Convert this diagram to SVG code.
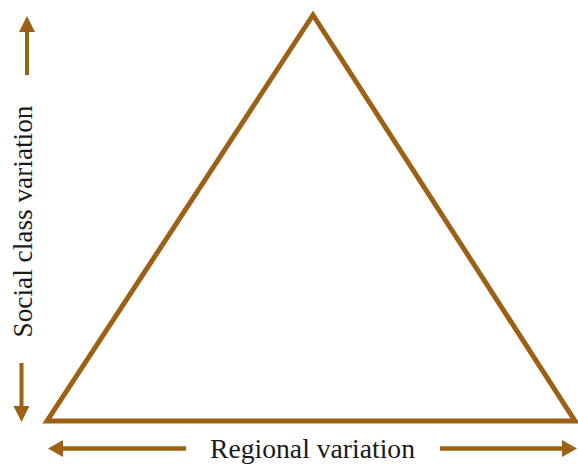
<svg xmlns="http://www.w3.org/2000/svg" width="578" height="464" viewBox="0 0 578 464">
<style>
.ln{stroke:#9C6114;fill:none}
.hd{fill:#9C6114;stroke:none}
.lbl{font-family:"Liberation Serif","Times New Roman",serif;font-size:27.5px;fill:#1a1a1a}
</style>
<rect width="578" height="464" fill="#fff"/>
<g id="triangle">
<polygon class="ln" points="313,15 47,421 575,421" stroke-width="5" stroke-linejoin="miter" stroke-miterlimit="10"/>
</g>
<g id="connectors">
<line class="ln" x1="27" y1="75" x2="27" y2="30" stroke-width="4"/>
<polygon class="hd" points="27,16 19,32 35,32"/>
<line class="ln" x1="21.5" y1="363" x2="21.5" y2="408" stroke-width="4"/>
<polygon class="hd" points="21.5,422 13.5,406 29.5,406"/>
<line class="ln" x1="186" y1="448.5" x2="61" y2="448.5" stroke-width="4.5"/>
<polygon class="hd" points="48,448.5 63,440 63,457"/>
<line class="ln" x1="440" y1="448.5" x2="564" y2="448.5" stroke-width="4.5"/>
<polygon class="hd" points="577,448.5 562,440 562,457"/>
</g>
<g id="label-regional">
<text class="lbl" x="312.5" y="458" text-anchor="middle" textLength="205" lengthAdjust="spacingAndGlyphs">Regional variation</text>
</g>
<g id="label-social">
<text class="lbl" transform="translate(32,221.5) rotate(-90)" text-anchor="middle" textLength="232" lengthAdjust="spacingAndGlyphs">Social class variation</text>
</g>
</svg>
